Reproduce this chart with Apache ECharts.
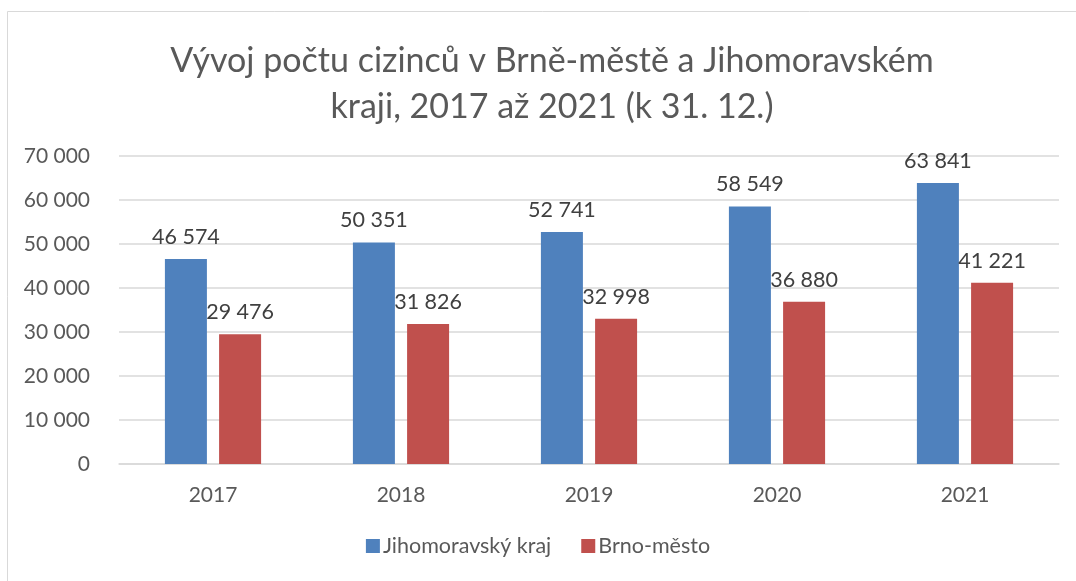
<!DOCTYPE html>
<html>
<head>
<meta charset="utf-8">
<script src="https://cdn.jsdelivr.net/npm/echarts@6/dist/echarts.min.js"></script>
<style>html,body{margin:0;padding:0;background:#fff;}#c{width:1076px;height:581px;}</style>
</head>
<body>
<div id="c"></div>
<script>
const categories = ['2017', '2018', '2019', '2020', '2021'];
const seriesNames = ['Jihomoravský kraj', 'Brno-město'];
const jihomoravsky = [46574, 50351, 52741, 58549, 63841];
const brno = [29476, 31826, 32998, 36880, 41221];
const yTicks = [0, 10000, 20000, 30000, 40000, 50000, 60000, 70000];
const titleText = 'Vývoj počtu cizinců v Brně-městě a Jihomoravském\nkraji, 2017 až 2021 (k 31. 12.)';

const FONT = 'Lato';
function fmt(v) { return String(v).replace(/\B(?=(\d{3})+(?!\d))/g, ' '); }

const chart = echarts.init(document.getElementById('c'), null, {renderer: 'canvas'});
const labelCfg = {
  show: true, position: 'top', distance: 11,
  formatter: p => fmt(p.value),
  color: '#404040', fontFamily: FONT, fontSize: 21.5
};
chart.setOption({
  backgroundColor: '#fff',
  animation: false,
  graphic: [{
    type: 'rect', shape: {x: 7.5, y: 11.5, width: 1100, height: 600},
    style: {fill: 'none', stroke: '#d9d9d9', lineWidth: 1}, silent: true, z: -1
  }],
  title: {
    text: titleText, left: 547, top: 33, textAlign: 'center',
    textStyle: {fontFamily: FONT, fontSize: 34, fontWeight: 'normal', color: '#595959', lineHeight: 46}
  },
  legend: {
    data: seriesNames, bottom: 19, left: 'center',
    itemWidth: 14, itemHeight: 14, itemGap: 30,
    icon: 'rect',
    textStyle: {fontFamily: FONT, fontSize: 21.5, color: '#595959', padding: [0, 0, 0, -2]}
  },
  grid: {left: 119, right: 17, top: 156, bottom: 117, containLabel: false},
  xAxis: {
    type: 'category', data: categories,
    axisLine: {lineStyle: {color: '#d9d9d9', width: 1.5}},
    axisTick: {show: false},
    axisLabel: {fontFamily: FONT, fontSize: 21, color: '#595959', margin: 21}
  },
  yAxis: {
    type: 'value', min: yTicks[0], max: yTicks[yTicks.length - 1], interval: 10000,
    axisLine: {show: false}, axisTick: {show: false},
    splitLine: {lineStyle: {color: '#d9d9d9', width: 1.5}},
    axisLabel: {fontFamily: FONT, fontSize: 21, color: '#595959', margin: 29, formatter: v => fmt(v)}
  },
  series: [
    {name: seriesNames[0], type: 'bar', data: jihomoravsky, barWidth: 42, barGap: '29%',
     itemStyle: {color: '#4f81bd'}, label: labelCfg},
    {name: seriesNames[1], type: 'bar', data: brno, barWidth: 42, barGap: '29%',
     itemStyle: {color: '#c0504d'}, label: labelCfg}
  ]
});
</script>
</body>
</html>
